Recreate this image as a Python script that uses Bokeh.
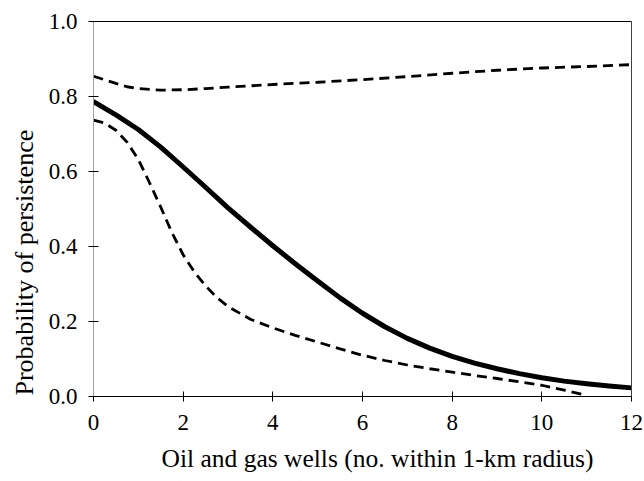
from bokeh.plotting import figure
from bokeh.models import FixedTicker, NumeralTickFormatter, LinearAxis, Range1d, Title
from bokeh.embed import file_html
from bokeh.resources import INLINE

# Data
x_mean = [0, 0.5, 1, 1.5, 2, 2.5, 3, 3.5, 4, 4.5, 5, 5.5, 6, 6.5, 7, 7.5, 8, 8.5, 9, 9.5, 10, 10.5, 11, 11.5, 12]
y_mean = [0.786, 0.751, 0.712, 0.665, 0.612, 0.558, 0.503, 0.452, 0.402, 0.354, 0.308, 0.263, 0.222, 0.186,
          0.155, 0.129, 0.107, 0.089, 0.074, 0.061, 0.050, 0.041, 0.034, 0.028, 0.023]

x_upper = [0, 0.5, 0.75, 1, 1.5, 2, 2.5, 3, 4, 5, 6, 7, 8, 9, 10, 11, 12]
y_upper = [0.854, 0.835, 0.826, 0.821, 0.817, 0.818, 0.821, 0.825, 0.832, 0.838, 0.845, 0.853, 0.862, 0.870,
           0.876, 0.880, 0.885]

x_lower = [0, 0.25, 0.5, 0.75, 1, 1.25, 1.5, 1.75, 2, 2.25, 2.5, 2.75, 3, 3.5, 4, 4.5, 5, 5.5, 6, 6.5, 7,
           7.5, 8, 8.5, 9, 9.5, 10, 10.5, 11]
y_lower = [0.737, 0.729, 0.710, 0.678, 0.632, 0.570, 0.505, 0.437, 0.378, 0.332, 0.295, 0.264, 0.240, 0.206,
           0.183, 0.163, 0.145, 0.127, 0.110, 0.096, 0.084, 0.074, 0.065, 0.056, 0.048, 0.039, 0.030, 0.017,
           0.003]

x_ticks = [0, 2, 4, 6, 8, 10, 12]
y_ticks = [0.0, 0.2, 0.4, 0.6, 0.8, 1.0]
x_title = "Oil and gas wells (no. within 1-km radius)"
y_title = "Probability of persistence"

FONT = "Liberation Serif"

p = figure(width=644, height=481, output_backend="svg", toolbar_location=None,
           x_range=Range1d(0, 12), y_range=Range1d(0, 1),
           min_border_left=92, min_border_right=13, min_border_top=21, min_border_bottom=83)
p.outline_line_color = None
p.grid.visible = False
p.background_fill_color = "white"
p.border_fill_color = "white"

for ax, ticks in ((p.xaxis[0], x_ticks), (p.yaxis[0], y_ticks)):
    ax.ticker = FixedTicker(ticks=ticks)
    ax.major_label_text_font = FONT
    ax.major_label_text_font_size = "23px"
    ax.major_label_text_color = "black"
    ax.major_tick_in = 5
    ax.major_tick_out = 5
    ax.major_tick_line_color = "black"
    ax.minor_tick_line_color = None
    ax.axis_line_width = 1

p.xaxis.axis_line_color = "black"
p.xaxis.major_label_standoff = 13
p.yaxis.axis_line_color = "#a0a0a0"
p.yaxis.major_label_standoff = 11
p.yaxis.formatter = NumeralTickFormatter(format="0.0")

top = LinearAxis(axis_line_color="black", major_tick_line_color=None, minor_tick_line_color=None,
                 major_label_text_font_size="0px", ticker=FixedTicker(ticks=[]))
right = LinearAxis(axis_line_color="#404040", major_tick_line_color=None, minor_tick_line_color=None,
                   major_label_text_font_size="0px", ticker=FixedTicker(ticks=[]))
p.add_layout(top, "above")
p.add_layout(right, "right")

p.line(x_upper, y_upper, line_color="black", line_width=2.8, line_dash="10 6")
p.line(x_lower, y_lower, line_color="black", line_width=2.8, line_dash="10 6")
p.line(x_mean, y_mean, line_color="black", line_width=5, line_cap="round", line_join="round")

xt = Title(text=x_title, text_font=FONT, text_font_size="25.5px", text_font_style="normal",
           text_color="black", align="left", offset=68, standoff=18)
yt = Title(text=y_title, text_font=FONT, text_font_size="26px", text_font_style="normal",
           text_color="black", align="left", offset=1, standoff=14)
p.add_layout(xt, "below")
p.add_layout(yt, "left")

open("out.html", "w").write(file_html(p, INLINE))
